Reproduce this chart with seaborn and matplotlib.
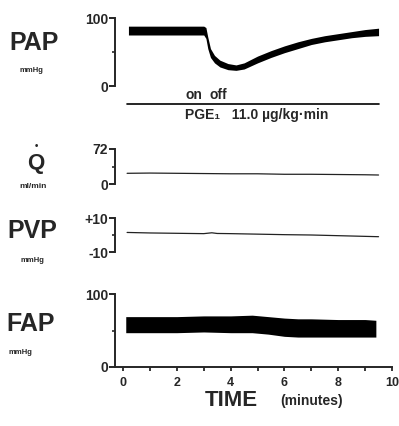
import numpy as np
import seaborn as sns
import matplotlib.pyplot as plt

# time axis (minutes)
pap_t = [0.2, 1.0, 2.0, 3.0, 3.08, 3.15, 3.25, 3.4, 3.6, 3.9, 4.2, 4.5, 5.0, 5.5, 6.0, 6.5, 7.0, 7.5, 8.0, 8.5, 9.0, 9.5]
pap_lo = [75, 75, 75, 75, 70, 55, 42, 34, 28, 24, 23, 25, 34, 42, 49, 55, 61, 65, 68, 71, 73, 74]
pap_hi = [88, 88, 88, 88, 86, 72, 55, 45, 38, 33, 31, 34, 44, 52, 59, 65, 70, 74, 77, 80, 83, 85]

q_t = [0.15, 1.0, 2.0, 3.0, 4.0, 5.0, 6.0, 7.0, 8.0, 9.0, 9.5]
q_val = [22, 22.5, 22, 21.5, 21, 21, 20, 20, 19.5, 19, 18.5]

pvp_t = [0.15, 1.0, 2.0, 3.0, 3.3, 3.5, 4.0, 5.0, 6.0, 7.0, 8.0, 9.0, 9.5]
pvp_val = [1.5, 1.2, 1.0, 0.8, 1.3, 0.9, 0.8, 0.5, 0.2, 0.0, -0.4, -0.8, -1.0]

fap_t = [0.1, 1.0, 2.0, 3.0, 4.0, 4.8, 5.4, 6.0, 6.5, 7.0, 8.0, 9.0, 9.4]
fap_lo = [47, 47, 47, 48, 47, 47, 45, 42, 41, 41, 41, 41, 41]
fap_hi = [69, 69, 69, 70, 70, 71, 69, 67, 66, 66, 65, 65, 64]

infusion_span = (0.15, 9.5)
on_time, off_time = 2.62, 3.55

time_ticks = list(range(0, 11))
time_labels = ["0", "", "2", "", "4", "", "6", "", "8", "", "10"]

sns.set_style("ticks")
plt.rcParams['font.family'] = ['Liberation Sans', 'DejaVu Sans']
plt.rcParams['font.weight'] = 'bold'

W, H = 399, 426
fig = plt.figure(figsize=(W / 100, H / 100), dpi=100)


def px(x, y):
    return x / W, 1 - y / H


def make_ax(top, bottom, ylim, yticks, ylabels):
    ax = fig.add_axes([115 / W, 1 - bottom / H, 277 / W, (bottom - top) / H])
    ax.set_xlim(-0.3, 10)
    ax.set_ylim(*ylim)
    sns.despine(ax=ax, bottom=True)
    ax.spines['left'].set_linewidth(1.4)
    ax.set_yticks(yticks)
    ax.set_yticklabels(ylabels, fontsize=10, fontweight='bold')
    ax.set_yticks([(ylim[0] + ylim[1]) / 2], minor=True)
    ax.tick_params(axis='y', which='major', length=4, width=1.4, pad=1)
    ax.tick_params(axis='y', which='minor', length=2, width=1.2)
    ax.set_xticks([])
    ax.set_facecolor('white')
    return ax


# PAP
ax1 = make_ax(18, 86, (0, 100), [0, 100], ["0", "100"])
ax1.fill_between(pap_t, pap_lo, pap_hi, color='black', lw=0)
tr = ax1.get_xaxis_transform()
ax1.plot(infusion_span, [-0.265, -0.265], color='black', lw=1.2, transform=tr, clip_on=False)
ax1.text(on_time, -0.13, "on", transform=tr, ha='center', va='center', fontsize=10, fontweight='bold')
ax1.text(off_time, -0.13, "off", transform=tr, ha='center', va='center', fontsize=10, fontweight='bold')
ax1.text(2.3, -0.43, "PGE₁   11.0 µg/kg·min", transform=tr, ha='left', va='center',
         fontsize=10, fontweight='bold')

# Q
ax2 = make_ax(149, 184, (0, 72), [0, 72], ["0", "72"])
sns.lineplot(x=q_t, y=q_val, ax=ax2, color='#222222', lw=0.9)

# PVP
ax3 = make_ax(218, 252, (-10, 10), [-10, 10], ["-10", "+10"])
sns.lineplot(x=pvp_t, y=pvp_val, ax=ax3, color='#222222', lw=0.9)

# FAP
ax4 = make_ax(294, 367, (0, 100), [0, 100], ["0", "100"])
ax4.fill_between(fap_t, fap_lo, fap_hi, color='black', lw=0)
ax4.spines['bottom'].set_visible(True)
ax4.spines['bottom'].set_linewidth(1.4)
ax4.set_xticks(time_ticks)
ax4.set_xticklabels(time_labels, fontsize=9, fontweight='bold')
ax4.tick_params(axis='x', length=3, width=1.3, pad=4)

# left labels
fig.text(*px(34, 43), "PAP", ha='center', va='center', fontsize=18, fontweight='bold')
fig.text(*px(31, 71), "mmHg", ha='center', va='center', fontsize=5.5, fontweight='bold')
fig.text(*px(36, 163), "Q", ha='center', va='center', fontsize=16, fontweight='bold')
fig.text(*px(36, 146), "•", ha='center', va='center', fontsize=7, fontweight='bold')
fig.text(*px(33, 187), "ml/min", ha='center', va='center', fontsize=6, fontweight='bold')
fig.text(*px(32, 231), "PVP", ha='center', va='center', fontsize=18, fontweight='bold')
fig.text(*px(32, 261), "mmHg", ha='center', va='center', fontsize=5.5, fontweight='bold')
fig.text(*px(31, 324), "FAP", ha='center', va='center', fontsize=18, fontweight='bold')
fig.text(*px(20, 353), "mmHg", ha='center', va='center', fontsize=5.5, fontweight='bold')

fig.text(*px(231, 401), "TIME", ha='center', va='center', fontsize=16, fontweight='bold')
fig.text(*px(312, 401), "(minutes)", ha='center', va='center', fontsize=10, fontweight='bold')

fig.savefig("out.png", dpi=100, facecolor='white')
